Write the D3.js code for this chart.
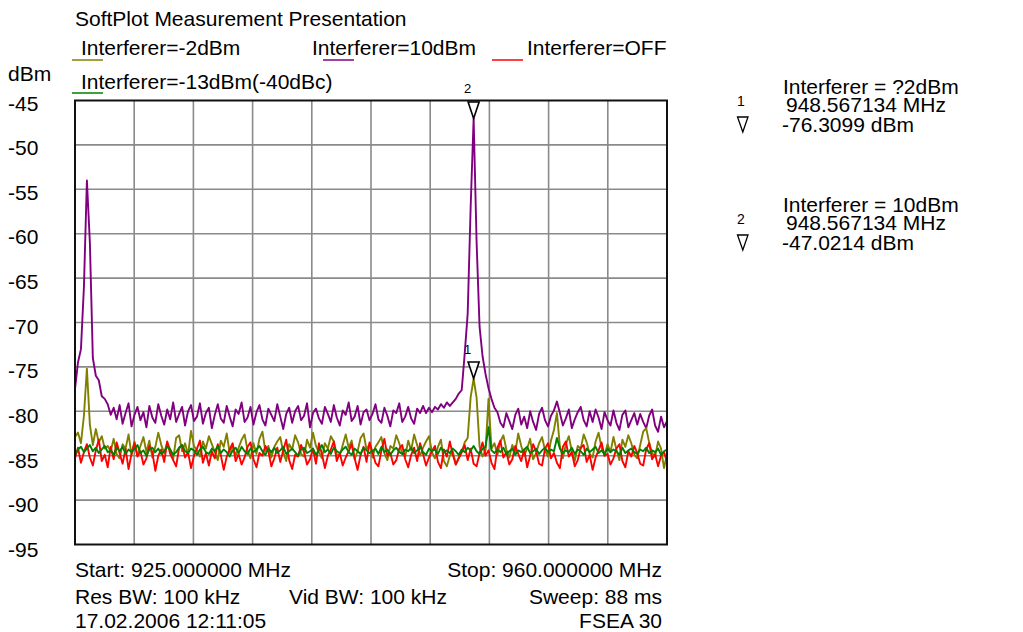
<!DOCTYPE html>
<html><head><meta charset="utf-8">
<script src="https://cdn.jsdelivr.net/npm/d3@7"></script>
<style>
html,body{margin:0;padding:0;background:#fff;}
svg{display:block;font-family:"Liberation Sans",Arial,sans-serif;}
</style></head>
<body><svg id="c" width="1023" height="632"></svg>
<script>
// ---------- data ----------
const freqStart = 925, freqStop = 960;           // MHz
const yTicks = [-45,-50,-55,-60,-65,-70,-75,-80,-85,-90,-95];
const seriesNames = ["Interferer=-2dBm","Interferer=10dBm","Interferer=OFF","Interferer=-13dBm(-40dBc)"];
const seriesColors = ["#808000","#800080","#ff0000","#008000"];

const tracePurple = [
-77.5,-74.5,-73,-66,-54,-61,-74,-76,-76.5,-78.3,-78.6,-79.2,-80.4,
-79.6,-80.9,-79.3,-81.4,-80.2,-79.1,-81.7,-80.4,-79.5,-81.0,
-80.1,-81.8,-79.4,-80.7,-81.3,-79.2,-80.5,-81.5,-79.8,-80.9,
-79.0,-81.2,-80.3,-79.5,-81.6,-80.0,-79.3,-81.1,-80.6,-79.1,
-81.4,-80.2,-79.6,-81.9,-80.4,-79.2,-80.8,-81.3,-79.4,-80.6,
-81.7,-79.8,-80.3,-79.0,-81.2,-80.7,-79.5,-81.5,-80.1,-79.3,
-80.9,-81.6,-79.7,-80.4,-81.1,-79.2,-80.6,-82.0,-80.3,-79.6,
-81.3,-80.0,-79.4,-81.0,-80.5,-79.1,-81.8,-80.2,-79.7,-80.8,
-81.4,-79.5,-80.3,-81.2,-79.3,-80.7,-81.6,-79.9,-80.4,-79.0,
-81.1,-80.6,-79.4,-81.5,-80.1,-79.8,-81.0,-80.3,-79.2,-80.9,
-81.3,-79.6,-80.5,-81.7,-79.9,-80.2,-79.1,-81.2,-80.6,-79.5,
-80.8,-81.4,-79.7,-80.2,-79.4,
-80.2,-79.6,-80.1,-79.5,-79.8,-79.2,-79.6,-79.0,-79.4,-79.0,
-78.6,-78.0,-77.6,-73.5,-69,-57,-47.0214,-61,-70.5,-73.8,-75.8,-77.4,-78.6,-79.6,
-80.1,-81.3,-81.8,-80.2,-81.1,-82.0,-80.4,-79.7,-81.5,-80.6,
-81.9,-80.0,-81.2,-82.1,-80.3,-79.6,-81.0,-81.7,-80.5,-79.9,
-78.9,-80.2,-81.6,-80.8,-79.8,-81.9,-80.9,-80.1,-79.5,-81.0,
-81.7,-80.0,-81.2,-79.8,-80.7,-82.0,-80.1,-81.0,-81.6,-79.9,
-81.3,-82.1,-80.4,-79.9,-81.8,-81.0,-80.2,-81.5,-80.3,-81.2,
-81.9,-80.5,-79.8,-81.6,-82.3,-80.6,-81.8,-81.1
];

const traceOlive = [
-82.9,-82.4,-83.6,-80.5,-75.2,-81.5,-83.8,-82.0,-83.5,-82.8,-84.2,-83.9,
-84.5,-83.1,-84.8,-85.3,-83.7,-84.2,-82.6,-84.9,-83.4,-85.0,
-83.9,-82.9,-84.6,-83.3,-85.2,-84.0,-82.4,-83.8,-84.7,-83.5,
-84.3,-85.4,-83.0,-82.7,-84.5,-83.6,-84.9,-82.2,-83.9,-84.4,
-85.1,-83.4,-84.2,-82.8,-83.7,-84.6,-85.5,-83.3,-84.0,-82.5,
-84.7,-83.8,-85.0,-84.1,-83.2,-82.6,-84.4,-85.3,-83.6,-84.8,
-83.1,-82.3,-84.5,-83.9,-85.2,-84.0,-83.4,-82.9,-84.6,-85.6,
-83.7,-84.3,-82.7,-83.5,-84.8,-85.1,-83.2,-84.1,-82.4,-83.9,
-84.6,-85.3,-83.6,-84.2,-82.8,-83.4,-84.9,-85.0,-83.8,-82.6,
-84.1,-83.3,-85.4,-84.5,-83.0,-82.5,-84.3,-83.7,-85.2,-84.0,
-83.5,-82.9,-84.7,-85.5,-83.9,-84.2,-82.7,-83.6,-84.8,-85.1,
-83.3,-84.4,-82.6,-83.8,-85.0,-84.1,-83.4,-82.8,-84.6,-85.3,
-84.0,-83.2,-85.6,-86.2,-85.0,-84.5,
-86.0,-85.2,-84.6,-83.5,-83.0,-78.4,-76.3099,-78.5,-84.0,-85.1,-84.4,-78.6,-84.2,-83.6,
-84.9,-83.4,-82.7,-84.3,-85.2,-83.8,-84.6,-82.5,-83.9,-85.0,
-84.2,-83.1,-85.4,-84.7,-83.6,-82.9,-84.4,-85.1,-83.3,-82.1,
-80.2,-84.0,-85.3,-83.7,-82.8,-84.5,-85.6,-83.9,-84.2,-82.6,
-83.5,-84.8,-85.2,-83.4,-82.4,-84.1,-85.0,-83.7,-84.6,-82.9,
-84.3,-85.5,-83.2,-84.0,-82.7,-83.6,-84.9,-85.3,-83.8,-82.3,
-81.9,-83.5,-84.7,-85.1,-83.4,-84.2,-86.4,-84.8
];

const traceRed = [
-85.3,-84.1,-85.8,-84.6,-83.7,-85.2,-86.1,-84.4,-83.2,-85.6,
-84.9,-86.3,-84.0,-85.4,-83.5,-84.7,-85.9,-84.2,-86.5,-84.8,
-83.6,-85.1,-84.5,-86.0,-85.3,-83.9,-84.6,-86.7,-85.0,-84.3,
-85.7,-83.4,-84.8,-85.5,-86.2,-84.1,-83.8,-85.2,-84.6,-86.4,
-85.0,-84.2,-83.3,-85.8,-84.7,-86.1,-84.5,-85.3,-83.7,-84.9,
-86.6,-85.1,-84.3,-83.6,-85.6,-84.8,-86.0,-85.2,-84.0,-83.5,
-85.4,-86.3,-84.7,-85.0,-83.9,-84.5,-86.2,-85.3,-84.1,-85.7,
-84.4,-83.2,-85.5,-86.5,-84.9,-85.1,-83.8,-84.6,-86.0,-85.4,
-84.2,-85.9,-83.6,-84.8,-86.4,-85.0,-84.3,-83.4,-85.6,-84.7,
-86.1,-85.2,-84.5,-83.7,-85.3,-86.6,-84.9,-84.0,-85.7,-83.5,
-84.6,-85.8,-86.2,-84.4,-83.1,-85.0,-84.7,-86.0,-85.5,-84.2,
-83.8,-85.4,-86.3,-84.9,-84.1,-85.6,-83.6,-84.8,-86.1,-85.2,
-84.5,-83.9,-85.7,-86.4,-84.3,-85.1,-83.4,-84.9,-86.0,-85.3,
-84.6,-83.8,-85.5,-84.2,-85.9,-86.2,-84.7,-83.5,-85.0,-84.4,
-85.8,-86.5,-84.1,-83.3,-85.2,-84.6,-86.0,-85.4,-83.9,-84.8,
-85.6,-84.3,-86.3,-85.0,-83.7,-84.5,-85.9,-86.1,-84.2,-83.6,
-85.3,-84.7,-85.8,-86.4,-84.0,-83.4,-85.1,-84.6,-86.2,-85.5,
-84.1,-83.8,-85.7,-84.9,-86.6,-85.2,-84.4,-83.5,-85.0,-84.8,
-86.0,-85.3,-84.2,-83.7,-85.6,-86.3,-84.5,-85.1,-83.9,-84.7,
-85.9,-86.1,-84.3,-83.6,-85.4,-84.8,-86.2,-85.0,-84.6,-85.7
];

const traceGreen = [
-84.9,-84.3,-84.0,-84.6,-84.2,-83.8,-84.5,-84.1,-84.7,-84.3,
-83.9,-84.6,-84.4,-84.9,-84.1,-84.5,-84.0,-84.8,-84.3,-84.6,
-84.2,-83.8,-84.7,-84.4,-85.0,-84.3,-84.1,-84.6,-84.2,-84.8,
-84.5,-84.0,-84.3,-84.9,-84.6,-84.1,-83.8,-84.5,-84.7,-84.2,
-84.4,-84.9,-84.3,-84.0,-84.6,-84.8,-84.2,-84.5,-83.9,-84.7,
-84.3,-84.6,-85.1,-84.4,-84.1,-84.7,-84.0,-84.5,-84.8,-84.2,
-84.6,-84.3,-83.9,-84.5,-84.9,-84.2,-84.6,-84.1,-84.7,-84.4,
-84.0,-84.8,-84.5,-84.2,-84.6,-85.0,-84.3,-84.1,-84.7,-84.5,
-84.2,-84.9,-84.4,-83.8,-84.6,-84.3,-84.8,-84.1,-84.5,-84.7,
-84.3,-84.0,-84.6,-84.9,-84.2,-84.5,-84.8,-84.1,-84.4,-84.7,
-84.5,-84.2,-84.8,-84.0,-84.6,-84.3,-84.9,-84.4,-84.1,-84.6,
-84.8,-84.3,-84.5,-84.1,-84.7,-84.4,-84.0,-84.6,-84.9,-84.2,
-84.5,-84.3,-84.8,-84.1,-84.6,-84.4,-84.7,-84.2,-84.5,-84.9,
-84.3,-84.6,-84.1,-84.4,-83.9,-84.5,-84.8,-84.2,-84.0,-81.8,
-84.4,-84.7,-84.3,-84.6,-84.1,-84.8,-84.5,-84.2,-84.9,-84.4,
-84.6,-84.3,-84.0,-84.7,-84.5,-84.2,-84.8,-84.4,-84.1,-84.6,
-84.3,-84.5,-83.0,-84.2,-84.7,-84.4,-84.6,-84.1,-84.8,-84.3,
-84.5,-84.9,-84.2,-84.6,-84.3,-84.0,-84.7,-84.4,-84.8,-84.2,
-84.6,-84.3,-84.5,-84.9,-84.1,-84.7,-84.4,-84.2,-84.6,-84.8,
-84.3,-84.5,-84.1,-84.7,-84.4,-84.6,-84.2,-84.9,-84.5,-84.3
];

const markerIds = ["1","2"];
const markerFreqs = [948.567134, 948.567134];
const markerLevels = [-76.3099, -47.0214];
const markerTitles = ["Interferer = ?2dBm","Interferer = 10dBm"];
const markerFreqText = ["948.567134 MHz","948.567134 MHz"];
const markerLevelText = ["-76.3099 dBm","-47.0214 dBm"];

const footerLeft = ["Start: 925.000000 MHz","Res BW: 100 kHz","17.02.2006 12:11:05"];
const footerMid = ["","Vid BW: 100 kHz",""];
const footerRight = ["Stop: 960.000000 MHz","Sweep: 88 ms","FSEA 30"];

// ---------- layout ----------
const L = 75, R = 667, T = 100.5, B = 544.5;
const FS = 21;
const svg = d3.select("#c");
const x = d3.scaleLinear().domain([freqStart, freqStop]).range([L, R]);
const y = d3.scaleLinear().domain([-95, -45]).range([B, T]);

// grid
const vGrid = d3.range(1, 10).map(k => freqStart + k * (freqStop - freqStart) / 10);
svg.append("g").selectAll("line").data(vGrid).join("line")
  .attr("x1", d => x(d)).attr("x2", d => x(d)).attr("y1", T).attr("y2", B)
  .attr("stroke", "#8a8a8a").attr("stroke-width", 1.6);
svg.append("g").selectAll("line").data(yTicks.slice(1, -1)).join("line")
  .attr("x1", L).attr("x2", R).attr("y1", d => y(d)).attr("y2", d => y(d))
  .attr("stroke", "#8a8a8a").attr("stroke-width", 1.6);

// y labels
svg.append("text").attr("x", 8).attr("y", 81).attr("font-size", FS).text("dBm");
svg.append("g").selectAll("text").data(yTicks).join("text")
  .attr("x", 8).attr("y", (d, i) => y(d) + 10 + i * 0.25)
  .attr("font-size", FS).text(d => d);

// traces
const nPts = tracePurple.length;
const fAt = i => freqStart + i * (freqStop - freqStart) / (nPts - 1);
const line = d3.line().x((d, i) => x(fAt(i))).y(d => y(d));
svg.append("clipPath").attr("id", "pc").append("rect")
  .attr("x", L).attr("y", T).attr("width", R - L).attr("height", B - T);
const traces = [
  {v: tracePurple, c: seriesColors[1]},
  {v: traceOlive, c: seriesColors[0]},
  {v: traceRed, c: seriesColors[2]},
  {v: traceGreen, c: seriesColors[3]}
];
const tg = svg.append("g").attr("clip-path", "url(#pc)");
traces.forEach(t => {
  tg.append("path").attr("d", line(t.v)).attr("fill", "none")
    .attr("stroke", t.c).attr("stroke-width", 1.9).attr("stroke-linejoin", "round");
});

// frame
svg.append("rect").attr("x", L).attr("y", T).attr("width", R - L).attr("height", B - T)
  .attr("fill", "none").attr("stroke", "#111").attr("stroke-width", 2);

// markers on plot
markerIds.forEach((id, i) => {
  const mx = x(markerFreqs[i]), my = y(markerLevels[i]);
  svg.append("path")
    .attr("d", `M${mx - 5.5},${my - 16.5} L${mx + 5.5},${my - 16.5} L${mx},${my} Z`)
    .attr("fill", "#fff").attr("fill-opacity", 0.85).attr("stroke", "#000").attr("stroke-width", 1.6);
  svg.append("text").attr("x", mx - 6).attr("y", my - 25).attr("font-size", 13)
    .attr("text-anchor", "middle").text(id);
});

// title & legend
svg.append("text").attr("x", 75).attr("y", 26).attr("font-size", FS).text("SoftPlot Measurement Presentation");
const legText = [[81, 55], [312, 55], [527, 55], [81, 89]];
const legLine = [[72, 60], [323, 60], [492, 60], [72, 93]];
seriesNames.forEach((n, i) => {
  svg.append("line").attr("x1", legLine[i][0]).attr("x2", legLine[i][0] + 31)
    .attr("y1", legLine[i][1]).attr("y2", legLine[i][1])
    .attr("stroke", seriesColors[i]).attr("stroke-width", 1.5);
  svg.append("text").attr("x", legText[i][0]).attr("y", legText[i][1]).attr("font-size", FS).text(n);
});

// marker info (right)
const infoTop = [94, 212];
markerIds.forEach((id, i) => {
  const b = infoTop[i];
  svg.append("text").attr("x", 741).attr("y", b + 12).attr("font-size", 14).attr("text-anchor", "middle").text(id);
  svg.append("path").attr("d", `M${737.5},${b + 23} L${748},${b + 23} L${742.8},${b + 38} Z`)
    .attr("fill", "none").attr("stroke", "#000").attr("stroke-width", 1.3);
  svg.append("text").attr("x", 783).attr("y", b).attr("font-size", FS).text(markerTitles[i]);
  svg.append("text").attr("x", 786).attr("y", b + 18).attr("font-size", FS).text(markerFreqText[i]);
  svg.append("text").attr("x", 782).attr("y", b + 38).attr("font-size", FS).text(markerLevelText[i]);
});

// footer
const fy = [577, 604, 628];
footerLeft.forEach((t, i) => svg.append("text").attr("x", 75).attr("y", fy[i]).attr("font-size", FS).text(t));
footerMid.forEach((t, i) => svg.append("text").attr("x", 289).attr("y", fy[i]).attr("font-size", FS).text(t));
footerRight.forEach((t, i) => svg.append("text").attr("x", 662).attr("y", fy[i]).attr("font-size", FS)
  .attr("text-anchor", "end").text(t));
</script></body></html>
